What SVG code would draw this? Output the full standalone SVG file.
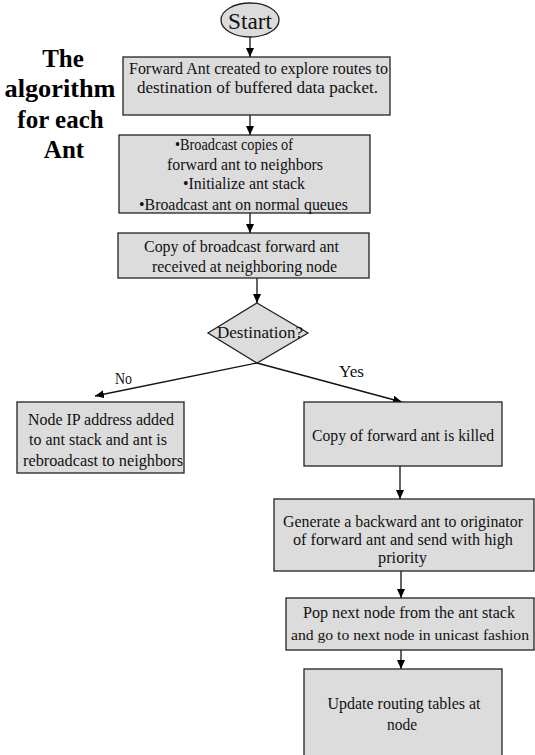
<svg xmlns="http://www.w3.org/2000/svg" width="535" height="755" viewBox="0 0 535 755">
<style>
  .box{fill:#dcdcdc;stroke:#222;stroke-width:1.3}
  text{font-family:'Liberation Serif','Times New Roman','DejaVu Serif',serif}
  .t{font-size:16.5px;fill:#111;text-anchor:middle}
  .title{font-size:25px;font-weight:bold;fill:#000;text-anchor:middle}
  .conn{stroke:#111;stroke-width:1.3;fill:none;marker-end:url(#arr)}
</style>
<defs>
  <marker id="arr" markerUnits="userSpaceOnUse" markerWidth="10" markerHeight="9" refX="9" refY="4" orient="auto">
    <path d="M0,0 L9,4 L0,8 z" fill="#000"/>
  </marker>
</defs>
<rect width="535" height="755" fill="#fff"/>

<g id="title">
  <text class="title" x="63" y="67">The</text>
  <text class="title" x="60" y="97" textLength="111" lengthAdjust="spacingAndGlyphs">algorithm</text>
  <text class="title" x="60.5" y="128">for each</text>
  <text class="title" x="64" y="158">Ant</text>
</g>

<g id="connectors">
  <line class="conn" x1="250" y1="37" x2="250" y2="57"/>
  <line class="conn" x1="250" y1="115" x2="250" y2="135"/>
  <line class="conn" x1="250" y1="213" x2="250" y2="233"/>
  <line class="conn" x1="257" y1="278" x2="257" y2="303"/>
  <line class="conn" x1="257" y1="363" x2="95" y2="396"/>
  <line class="conn" x1="257" y1="363" x2="402" y2="402"/>
  <line class="conn" x1="400" y1="466" x2="400" y2="499"/>
  <line class="conn" x1="401" y1="571" x2="401" y2="598"/>
  <line class="conn" x1="401" y1="650" x2="401" y2="669"/>
  <text class="t" x="123.5" y="384" textLength="17" lengthAdjust="spacingAndGlyphs">No</text>
  <text class="t" x="351.5" y="377" textLength="25" lengthAdjust="spacingAndGlyphs">Yes</text>
</g>

<g id="start">
  <ellipse cx="250" cy="20" rx="29" ry="17" fill="#dcdcdc" stroke="#222" stroke-width="1.3"/>
  <text class="t" x="250" y="29" style="font-size:23px" textLength="44" lengthAdjust="spacingAndGlyphs">Start</text>
</g>

<g id="forward-ant">
  <rect class="box" x="123" y="57" width="267" height="58"/>
  <text class="t" x="258.5" y="74" textLength="259" lengthAdjust="spacingAndGlyphs">Forward Ant created to explore routes to</text>
  <text class="t" x="257.5" y="93" textLength="241" lengthAdjust="spacingAndGlyphs">destination of buffered data packet.</text>
</g>

<g id="broadcast">
  <rect class="box" x="119" y="135" width="251" height="78"/>
  <text class="t" x="234" y="150" textLength="118" lengthAdjust="spacingAndGlyphs">•Broadcast copies of</text>
  <text class="t" x="245" y="170" textLength="156" lengthAdjust="spacingAndGlyphs">forward ant to neighbors</text>
  <text class="t" x="244" y="189" textLength="122" lengthAdjust="spacingAndGlyphs">•Initialize ant stack</text>
  <text class="t" x="243.5" y="210" textLength="209" lengthAdjust="spacingAndGlyphs">•Broadcast ant on normal queues</text>
</g>

<g id="received">
  <rect class="box" x="118" y="233" width="251" height="45"/>
  <text class="t" x="241.5" y="252" textLength="195" lengthAdjust="spacingAndGlyphs">Copy of broadcast forward ant</text>
  <text class="t" x="244.5" y="272" textLength="185" lengthAdjust="spacingAndGlyphs">received at neighboring node</text>
</g>

<g id="destination">
  <polygon class="box" points="257,303 308,333 257,363 208,333"/>
  <text class="t" x="260" y="338" textLength="86" lengthAdjust="spacingAndGlyphs">Destination?</text>
</g>

<g id="rebroadcast">
  <rect class="box" x="17" y="402" width="167" height="71"/>
  <text class="t" x="101" y="425" textLength="146" lengthAdjust="spacingAndGlyphs">Node IP address added</text>
  <text class="t" x="98" y="445" textLength="138" lengthAdjust="spacingAndGlyphs">to ant stack and ant is</text>
  <text class="t" x="103" y="466" textLength="160" lengthAdjust="spacingAndGlyphs">rebroadcast to neighbors</text>
</g>

<g id="killed">
  <rect class="box" x="304" y="402" width="198" height="64"/>
  <text class="t" x="403" y="441" textLength="182" lengthAdjust="spacingAndGlyphs">Copy of forward ant is killed</text>
</g>

<g id="backward-ant">
  <rect class="box" x="274" y="499" width="260" height="72"/>
  <text class="t" x="403" y="527" textLength="240" lengthAdjust="spacingAndGlyphs">Generate a backward ant to originator</text>
  <text class="t" x="403" y="545" textLength="220" lengthAdjust="spacingAndGlyphs">of  forward ant and send with high</text>
  <text class="t" x="402.5" y="563" textLength="49" lengthAdjust="spacingAndGlyphs">priority</text>
</g>

<g id="pop">
  <rect class="box" x="286" y="598" width="248" height="52"/>
  <text class="t" x="409" y="618" textLength="212" lengthAdjust="spacingAndGlyphs">Pop next node from the ant stack</text>
  <text class="t" x="410" y="640" style="font-size:15.5px" textLength="238" lengthAdjust="spacingAndGlyphs">and go to next node in unicast fashion</text>
</g>

<g id="update">
  <rect class="box" x="304" y="669" width="198" height="100"/>
  <text class="t" x="404" y="709" textLength="153" lengthAdjust="spacingAndGlyphs">Update routing tables at</text>
  <text class="t" x="402" y="730" textLength="30" lengthAdjust="spacingAndGlyphs">node</text>
</g>
</svg>
